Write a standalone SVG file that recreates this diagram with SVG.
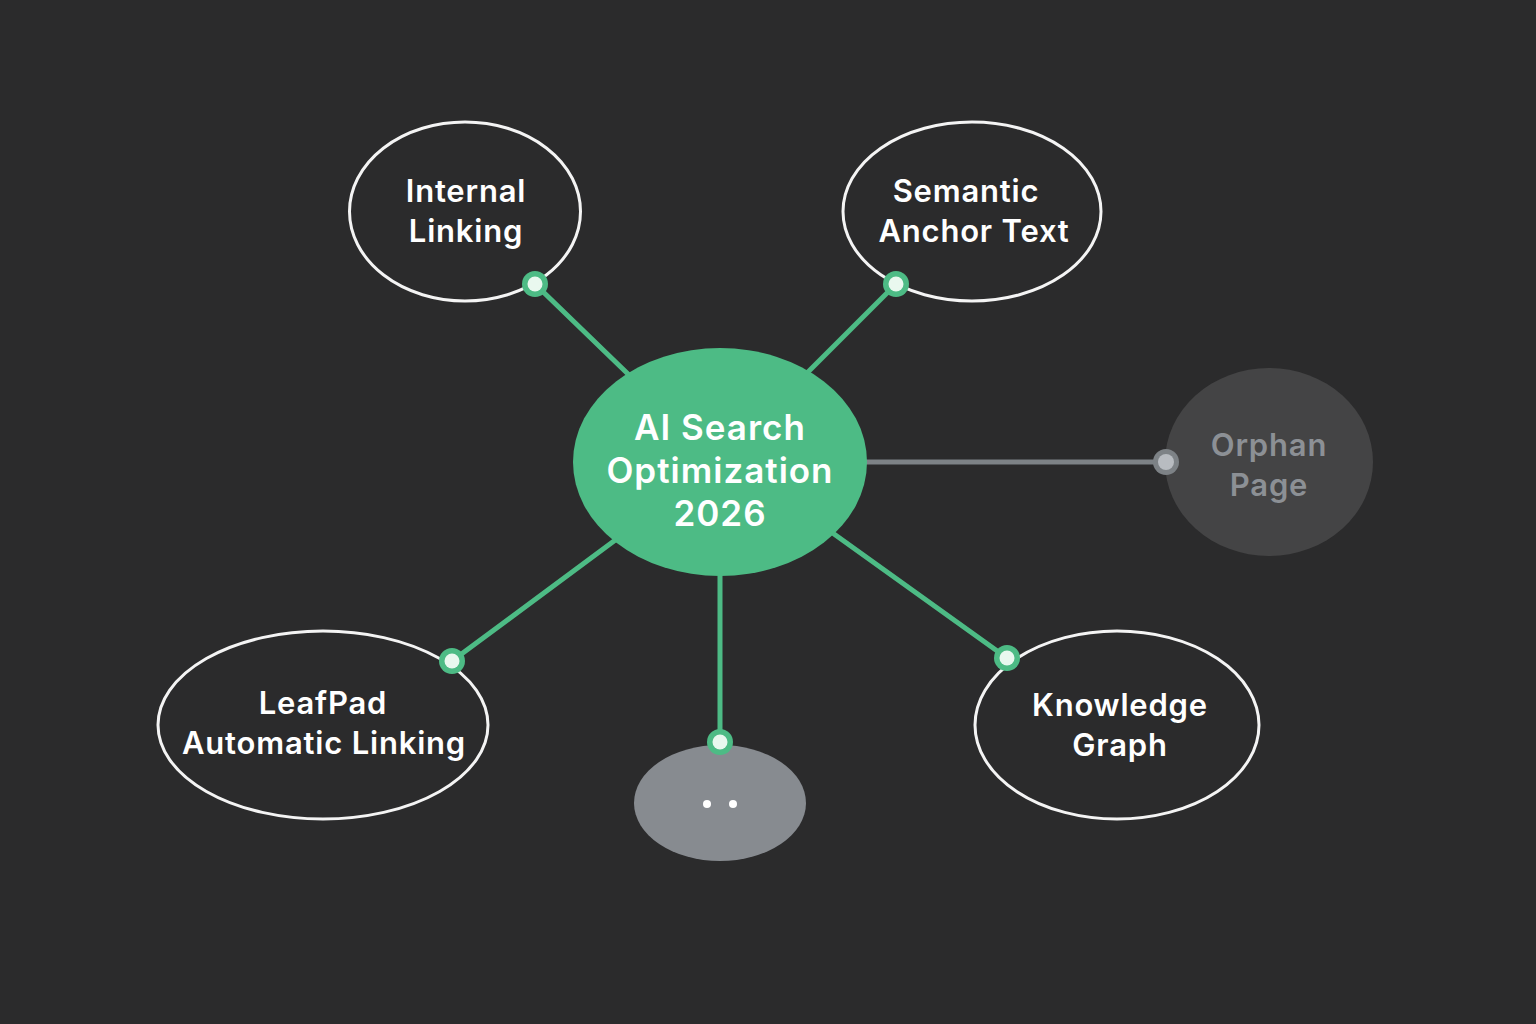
<svg xmlns="http://www.w3.org/2000/svg" width="1536" height="1024" viewBox="0 0 1536 1024">
<style>
.bg{fill:#2b2b2c}
.outline{fill:#2b2b2c;stroke:#f4f4f4;stroke-width:3}
.lbl{font-family:"Inter","Open Sans","Liberation Sans",sans-serif;font-weight:600;font-size:31px;letter-spacing:0.8px;fill:#ffffff;text-anchor:middle}
.clbl{font-size:35px;letter-spacing:1px}
.glbl{fill:#8c9095}
.edge{stroke:#4dbb85;stroke-width:5;stroke-linecap:round}
.gedge{stroke:#7d8286;stroke-width:5}
.dot{fill:#4dbb85}
.dotin{fill:#e9f8ef}
</style>
<rect class="bg" x="0" y="0" width="1536" height="1024"/>
<g id="connectors">
<line class="edge" x1="535" y1="284" x2="628" y2="374"/>
<line class="edge" x1="896" y1="284" x2="808" y2="372"/>
<line class="gedge" x1="866" y1="462" x2="1165" y2="462"/>
<line class="edge" x1="614" y1="541" x2="452" y2="661"/>
<line class="edge" x1="834" y1="534" x2="1007" y2="658"/>
<line class="edge" x1="720" y1="576" x2="720" y2="742"/>
</g>
<g id="center">
<ellipse cx="720" cy="462" rx="147" ry="114" fill="#4dbb85"/>
<text class="lbl clbl" x="720" y="440">AI Search</text>
<text class="lbl clbl" x="720" y="483">Optimization</text>
<text class="lbl clbl" x="720" y="526">2026</text>
</g>
<g id="internal-linking">
<ellipse class="outline" cx="465" cy="211.5" rx="115.5" ry="89.5"/>
<text class="lbl" x="466" y="202">Internal</text>
<text class="lbl" x="466" y="242">Linking</text>
</g>
<g id="semantic-anchor-text">
<ellipse class="outline" cx="972" cy="211.5" rx="129" ry="89.5"/>
<text class="lbl" x="966" y="202">Semantic</text>
<text class="lbl" x="974" y="242">Anchor Text</text>
</g>
<g id="orphan-page">
<ellipse cx="1269" cy="462" rx="104" ry="94" fill="#444445"/>
<text class="lbl glbl" x="1269" y="456">Orphan</text>
<text class="lbl glbl" x="1269" y="496">Page</text>
</g>
<g id="leafpad">
<ellipse class="outline" cx="323" cy="725" rx="165" ry="94"/>
<text class="lbl" x="323" y="714">LeafPad</text>
<text class="lbl" x="324" y="754">Automatic Linking</text>
</g>
<g id="knowledge-graph">
<ellipse class="outline" cx="1117" cy="725" rx="142" ry="94"/>
<text class="lbl" x="1120" y="716">Knowledge</text>
<text class="lbl" x="1120" y="756">Graph</text>
</g>
<g id="placeholder">
<ellipse cx="720" cy="803" rx="86" ry="58" fill="#878b90"/>
<circle cx="707" cy="804" r="4" fill="#ffffff"/>
<circle cx="733" cy="804" r="4" fill="#ffffff"/>
</g>
<g id="ports">
<circle class="dot" cx="535" cy="284" r="13"/><circle class="dotin" cx="535" cy="284" r="7.5"/>
<circle class="dot" cx="896" cy="284" r="13"/><circle class="dotin" cx="896" cy="284" r="7.5"/>
<circle class="dot" cx="452" cy="661" r="13"/><circle class="dotin" cx="452" cy="661" r="7.5"/>
<circle class="dot" cx="1007" cy="658" r="13"/><circle class="dotin" cx="1007" cy="658" r="7.5"/>
<circle class="dot" cx="720" cy="742" r="13"/><circle class="dotin" cx="720" cy="742" r="7.5"/>
<circle cx="1166" cy="462" r="13" fill="#7d8286"/><circle cx="1166" cy="462" r="8" fill="#b8bcc1"/>
</g>
</svg>
